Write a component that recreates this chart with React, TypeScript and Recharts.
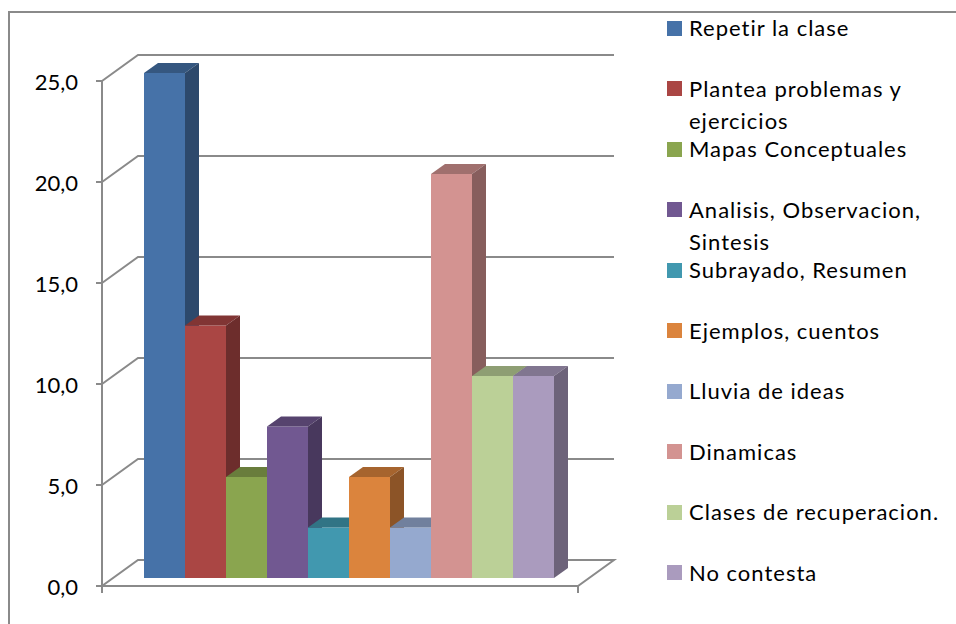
import React from 'react';
import { BarChart, Bar, XAxis, YAxis, CartesianGrid, Legend, Customized } from 'recharts';

const categories = ['Estrategias'];
const seriesNames = [
  'Repetir la clase',
  'Plantea problemas y ejercicios',
  'Mapas Conceptuales',
  'Analisis, Observacion, Sintesis',
  'Subrayado, Resumen',
  'Ejemplos, cuentos',
  'Lluvia de ideas',
  'Dinamicas',
  'Clases de recuperacion.',
  'No contesta',
];
const seriesValues = [25, 12.5, 5, 7.5, 2.5, 5, 2.5, 20, 10, 10];
const seriesColors = [
  '#4672A8', '#AA4644', '#8AA54F', '#715891', '#4198AF',
  '#DB843D', '#95A9CF', '#D39391', '#BBD097', '#AA9BBE',
];
const yTicks = [0, 5, 10, 15, 20, 25];

const data = categories.map((c) => {
  const row: Record<string, any> = { category: c };
  seriesNames.forEach((_, i) => {
    row['s' + i] = seriesValues[i];
  });
  return row;
});

// 3D projection offsets relative to the bar plane
const FRONT = { dx: -11, dy: 8 };
const BACK = { dx: 25, dy: -18 };
const DEPTH = { dx: 14, dy: -10 };
const GRID = '#8A8A8A';
const FONT = 'Lato, "Open Sans", sans-serif';

function shade(hex: string, f: number) {
  const n = parseInt(hex.slice(1), 16);
  const r = Math.round(((n >> 16) & 255) * f);
  const g = Math.round(((n >> 8) & 255) * f);
  const b = Math.round((n & 255) * f);
  return `rgb(${r},${g},${b})`;
}

const Box3D = (props: any) => {
  const { x, y, width: w, height: h, color } = props;
  if (w == null || h == null) return null;
  const { dx, dy } = DEPTH;
  return (
    <g>
      <rect x={x} y={y} width={w} height={h} fill={color} />
      <polygon
        points={`${x},${y} ${x + w},${y} ${x + w + dx},${y + dy} ${x + dx},${y + dy}`}
        fill={shade(color, 0.76)}
      />
      <polygon
        points={`${x + w},${y} ${x + w + dx},${y + dy} ${x + w + dx},${y + h + dy} ${x + w},${y + h}`}
        fill={shade(color, 0.64)}
      />
    </g>
  );
};

const GridLine = (p: any) => {
  const { x1, y1, x2 } = p;
  const isFloor = Math.abs(y1 - (p.y + p.height)) < 1;
  if (isFloor) {
    const fl = [x1 + FRONT.dx, y1 + FRONT.dy];
    const fr = [x2 + FRONT.dx, y1 + FRONT.dy];
    const br = [x2 + BACK.dx, y1 + BACK.dy];
    const bl = [x1 + BACK.dx, y1 + BACK.dy];
    return (
      <g key={p.key}>
        <polygon
          points={`${fl[0]},${fl[1]} ${fr[0]},${fr[1]} ${br[0]},${br[1]} ${bl[0]},${bl[1]}`}
          fill="none"
          stroke={GRID}
          strokeWidth={2}
        />
        <line x1={fl[0]} y1={fl[1]} x2={fl[0]} y2={fl[1] + 7} stroke={GRID} strokeWidth={2} />
        <line x1={fr[0]} y1={fr[1]} x2={fr[0]} y2={fr[1] + 7} stroke={GRID} strokeWidth={2} />
      </g>
    );
  }
  return (
    <polyline
      key={p.key}
      points={`${x1 + FRONT.dx},${y1 + FRONT.dy} ${x1 + BACK.dx},${y1 + BACK.dy} ${x2 + BACK.dx},${y1 + BACK.dy}`}
      fill="none"
      stroke={GRID}
      strokeWidth={2}
    />
  );
};

const YTick = (p: any) => {
  const { x, y, payload } = p;
  const ax = x + FRONT.dx;
  const ay = y + FRONT.dy;
  return (
    <g>
      <line x1={ax - 6} y1={ay} x2={ax} y2={ay} stroke={GRID} strokeWidth={2} />
      <text
        x={ax - 24}
        y={ay}
        textAnchor="end"
        dominantBaseline="central"
        fontFamily={FONT}
        fontSize={22}
        fill="#000"
      >
        {Number(payload.value).toFixed(1).replace('.', ',')}
      </text>
    </g>
  );
};

const Frame = () => (
  <path d="M9,640 L9,12 L970,12" fill="none" stroke={GRID} strokeWidth={2} />
);

const LegendContent = (props: any) => {
  const items = [...(props.payload || [])].sort(
    (a: any, b: any) => seriesNames.indexOf(a.value) - seriesNames.indexOf(b.value)
  );
  return (
    <div style={{ fontFamily: FONT, fontSize: 22, letterSpacing: '1px', color: '#000' }}>
      {items.map((e: any, i: number) => (
        <div key={i} style={{ height: 60.5, display: 'flex', alignItems: 'flex-start' }}>
          <span
            style={{
              width: 15,
              height: 15,
              marginTop: 8.5,
              background: e.color,
              marginRight: 7,
              flex: 'none',
            }}
          />
          <span style={{ lineHeight: '32px', width: 265, textAlign: 'left' }}>{e.value}</span>
        </div>
      ))}
    </div>
  );
};

export default function App() {
  return (
    <div style={{ position: 'absolute', left: 0, top: 0 }}>
      <BarChart
        width={956}
        height={624}
        data={data}
        margin={{ top: 73, right: 367, bottom: 46, left: 53 }}
        barCategoryGap={31}
        barGap={0}
      >
        <Customized component={Frame} />
        <CartesianGrid vertical={false} horizontal={GridLine as any} />
        <XAxis dataKey="category" hide />
        <YAxis
          width={60}
          domain={[0, 25]}
          ticks={yTicks}
          interval={0}
          tickSize={0}
          tickMargin={0}
          tickLine={false}
          axisLine={{ stroke: GRID, strokeWidth: 2, transform: `translate(${FRONT.dx},${FRONT.dy})` } as any}
          tick={<YTick />}
        />
        <Legend
          layout="horizontal"
          align="center"
          verticalAlign="middle"
          wrapperStyle={{ left: 667, top: 12, width: 289 }}
          content={<LegendContent />}
        />
        {seriesNames.map((n, i) => (
          <Bar
            key={n}
            dataKey={'s' + i}
            name={n}
            fill={seriesColors[i]}
            isAnimationActive={false}
            shape={(p: any) => <Box3D {...p} color={seriesColors[i]} />}
          />
        ))}
      </BarChart>
    </div>
  );
}
